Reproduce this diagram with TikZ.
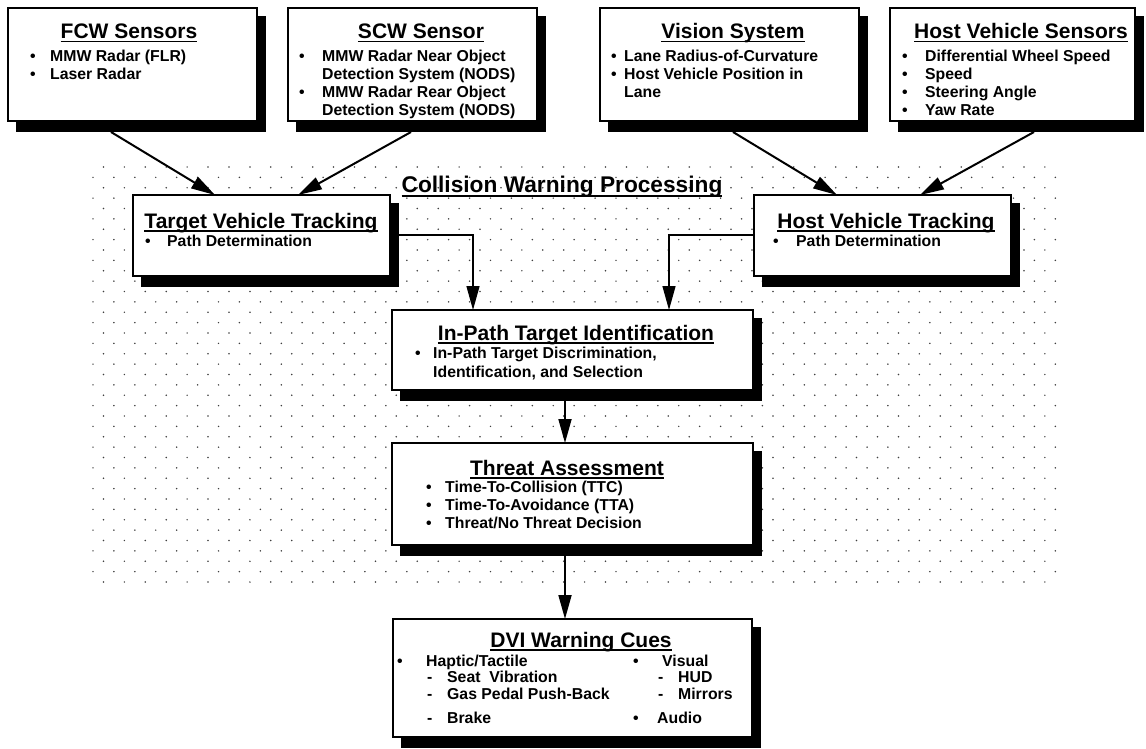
\documentclass[tikz,border=0pt]{standalone}
\usepackage{fontspec}
\setmainfont{Liberation Sans}
\usetikzlibrary{arrows.meta,calc}
\newcommand\myul[1]{\setbox0\hbox{#1}\rlap{\vrule height -2pt depth 3.5pt width \wd0}\box0}
\newcommand\bul[1]{\makebox[#1pt][l]{•}}
\newcommand\dsh[1]{\makebox[#1pt][l]{-}}
\newcommand\mkbox[5]{%
  \fill[black] (#2+8,#3+8) rectangle (#4+9,#5+11);
  \node[box, anchor=north west, minimum width=#4-#2, minimum height=#5-#3] (#1) at (#2,#3) {};}
\tikzset{
  box/.style={draw=black, line width=1.6pt, fill=white, inner sep=0pt, outer sep=0pt},
  ttl/.style={font=\fontsize{21}{21}\bfseries\selectfont, anchor=base, inner sep=0pt},
  txt/.style={font=\fontsize{15.8}{18}\bfseries\selectfont, anchor=base west, inner sep=0pt},
  arr/.style={line width=2pt, -{Triangle[length=24pt,width=13pt]}},
  elb/.style={line width=1.4pt, -{Triangle[length=24pt,width=13pt]}},
  vln/.style={line width=1.8pt, -{Triangle[length=24pt,width=13pt]}},
  dotc/.style={fill=black!75}
}
\begin{document}
\begin{tikzpicture}[x=1pt,y=-1pt]
\useasboundingbox (0,0) rectangle (1146,749);
% dotted processing area
\foreach \r in {0,...,40}{
  \pgfmathsetmacro\yy{167+10.375*\r}
  \pgfmathsetmacro\xo{mod(\r,2)==0 ? 103.46 : 93}
  \pgfmathtruncatemacro\nc{mod(\r,2)==0 ? 45 : 46}
  \foreach \c in {0,...,\nc}{\fill[dotc] (\xo+20.92*\c,\yy) circle[radius=0.85pt];}
}
\node[font=\fontsize{22.7}{22.7}\bfseries\selectfont, anchor=base, inner sep=0pt] (cwp) at (562,193) {\myul{Collision Warning Processing}};
% boxes
\mkbox{fcw}{8}{8}{257}{121}
\mkbox{scw}{288}{8}{537}{121}
\mkbox{vis}{600}{8}{859}{121}
\mkbox{hvs}{890}{8}{1135}{121}
\mkbox{tvt}{133}{195}{390}{276}
\mkbox{hvt}{754}{195}{1011}{276}
\mkbox{ipti}{392}{310}{753}{390}
\mkbox{ta}{392}{443}{753}{545}
\mkbox{dvi}{393}{619}{752}{737}
% titles
\node[ttl] (ft) at (129,39) {\myul{FCW Sensors}};
\node[ttl] (st) at (421,39) {\myul{SCW Sensor}};
\node[ttl] (vt) at (733,39) {\myul{Vision System}};
\node[ttl] (ht) at (1021,39) {\myul{Host Vehicle Sensors}};
\node[ttl] (tt) at (261,228) {\myul{Target Vehicle Tracking}};
\node[ttl] (kt) at (886,228) {\myul{Host Vehicle Tracking}};
\node[ttl] (it) at (576,340) {\myul{In-Path Target Identification}};
\node[ttl] (at) at (567,475) {\myul{Threat Assessment}};
\node[ttl] (dt) at (581,647) {\myul{DVI Warning Cues}};
% texts
\node[txt] (f1) at (30,62) {\bul{20}MMW Radar (FLR)};
\node[txt] (f2) at (30,80) {\bul{20}Laser Radar};
\node[txt] (s1) at (299,62) {\bul{23}MMW Radar Near Object};
\node[txt] (s2) at (322,80) {Detection System (NODS)};
\node[txt] (s3) at (299,98) {\bul{23}MMW Radar Rear Object};
\node[txt] (s4) at (322,116) {Detection System (NODS)};
\node[txt] (v1) at (611,62) {\bul{13}Lane Radius-of-Curvature};
\node[txt] (v2) at (611,80) {\bul{13}Host Vehicle Position in};
\node[txt] (v3) at (624,98) {Lane};
\node[txt] (h1) at (902,62) {\bul{23}Differential Wheel Speed};
\node[txt] (h2) at (902,80) {\bul{23}Speed};
\node[txt] (h3) at (902,98) {\bul{23}Steering Angle};
\node[txt] (h4) at (902,116) {\bul{23}Yaw Rate};
\node[txt] (t1) at (145,246) {\bul{22}Path Determination};
\node[txt] (k1) at (773,246) {\bul{23}Path Determination};
\node[txt] (i1) at (415,358) {\bul{18}In-Path Target Discrimination,};
\node[txt] (i2) at (433,377) {Identification, and Selection};
\node[txt] (a1) at (426,492) {\bul{19}Time-To-Collision (TTC)};
\node[txt] (a2) at (426,510) {\bul{19}Time-To-Avoidance (TTA)};
\node[txt] (a3) at (426,528) {\bul{19}Threat/No Threat Decision};
\node[txt] (d1) at (397,666) {\bul{29}Haptic/Tactile};
\node[txt] (d2) at (427,682) {\dsh{20}Seat~ Vibration};
\node[txt] (d3) at (427,699) {\dsh{20}Gas Pedal Push-Back};
\node[txt] (d4) at (427,723) {\dsh{20}Brake};
\node[txt] (d5) at (633,666) {\bul{29}Visual};
\node[txt] (d6) at (658,682) {\dsh{20}HUD};
\node[txt] (d7) at (658,699) {\dsh{20}Mirrors};
\node[txt] (d8) at (633,723) {\bul{24}Audio};
% connectors
\draw[arr] ($(fcw.south west)+(103,11)$) -- ($(tvt.north west)+(82,0)$);
\draw[arr] ($(scw.south west)+(123,11)$) -- ($(tvt.north west)+(165,0)$);
\draw[arr] ($(vis.south west)+(133,11)$) -- ($(hvt.north west)+(83,0)$);
\draw[arr] ($(hvs.south west)+(144,11)$) -- ($(hvt.north west)+(166,0)$);
\draw[elb] ($(tvt.north east)+(9,40)$) -| ($(ipti.north west)+(81,0)$);
\draw[elb] ($(hvt.north west)+(0,40)$) -| ($(ipti.north west)+(277,0)$);
\draw[vln] ($(ipti.south west)+(173,0)$) -- ($(ta.north west)+(173,0)$);
\draw[vln] ($(ta.south west)+(173,0)$) -- ($(dvi.north west)+(172,0)$);
\end{tikzpicture}
\end{document}
